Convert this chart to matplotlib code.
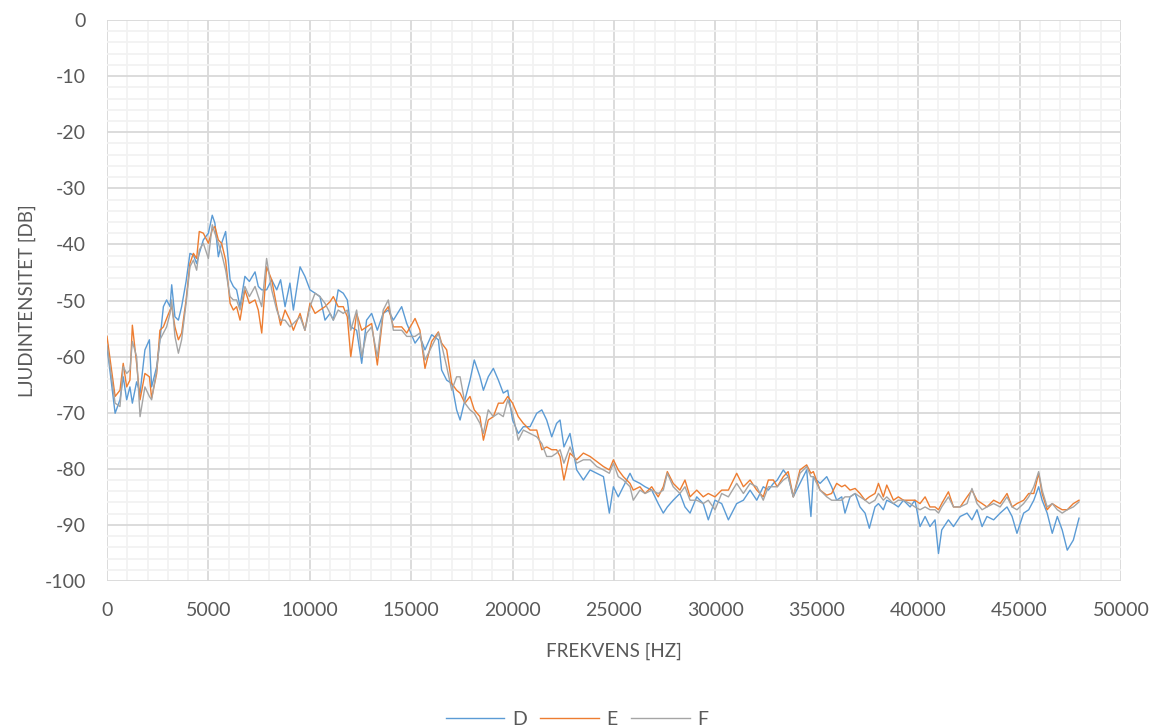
import matplotlib
matplotlib.use("Agg")
import matplotlib.pyplot as plt
from matplotlib.ticker import MultipleLocator

# frequency bins (Hz) and levels (dB)
freq = [0, 400, 640, 800, 970, 1130, 1250, 1460, 1630, 1870, 2090, 2200, 2450, 2610, 2780, 2940,
        3110, 3190, 3350, 3520, 3680, 3900, 4090, 4260, 4420, 4550, 4750, 5000, 5190, 5320, 5490,
        5650, 5850, 6070, 6230, 6390, 6560, 6800, 7020, 7300, 7460, 7630, 7870, 8120, 8370, 8560,
        8780, 9020, 9190, 9520, 9760, 10010, 10260, 10500, 10750, 11000, 11160, 11400, 11650, 11850,
        12020, 12310, 12560, 12800, 13050, 13330, 13620, 13870, 14120, 14530, 14780, 15190, 15430,
        15680, 16010, 16340, 16500, 16750, 17000, 17240, 17410, 17650, 17900, 18110, 18390, 18560,
        18800, 19050, 19300, 19540, 19760, 20000, 20280, 20530, 20860, 21190, 21440, 21680, 21930,
        22170, 22340, 22530, 22830, 23160, 23490, 23820, 24150, 24480, 24770, 24970, 25210, 25460,
        25790, 25950, 26280, 26530, 26860, 27180, 27430, 27630, 27920, 28250, 28500, 28750, 29080,
        29400, 29650, 29980, 30310, 30640, 31050, 31380, 31710, 32040, 32360, 32610, 32860, 33050,
        33350, 33590, 33840, 34170, 34500, 34710, 34830, 35160, 35490, 35730, 35980, 36230, 36390,
        36640, 36890, 37130, 37380, 37590, 37870, 38040, 38280, 38450, 38780, 39020, 39270, 39600,
        39840, 40090, 40340, 40580, 40830, 41000, 41160, 41490, 41740, 42070, 42410, 42650, 42900,
        43150, 43390, 43720, 44040, 44380, 44630, 44870, 45200, 45450, 45700, 45940, 46110, 46360,
        46610, 46860, 47100, 47350, 47650, 47930]

D = [-58.2, -70.1, -67.7, -63.6, -67.7, -65.4, -68.3, -64.5, -66.5, -58.8, -57.0, -65.4, -61.8, -57.0,
     -51.1, -49.9, -51.1, -47.2, -52.9, -53.5, -51.1, -46.6, -41.6, -41.9, -43.4, -41.6, -39.2, -38.0,
     -34.8, -36.2, -42.2, -39.8, -37.7, -46.3, -47.5, -48.1, -51.1, -45.7, -46.6, -44.9, -47.5, -48.1,
     -48.1, -46.3, -48.1, -46.3, -51.1, -46.9, -51.7, -44.0, -45.7, -48.1, -48.7, -49.3, -53.5, -52.3,
     -53.5, -48.1, -48.7, -49.9, -54.7, -55.3, -61.2, -53.5, -52.3, -55.3, -52.3, -51.7, -53.5, -51.1,
     -54.1, -57.6, -56.4, -58.8, -56.1, -57.0, -62.4, -64.2, -64.8, -69.5, -71.3, -67.7, -64.2, -60.6,
     -63.6, -66.0, -63.6, -62.1, -64.2, -66.5, -66.0, -71.3, -73.7, -72.5, -72.5, -70.1, -69.5, -71.3,
     -74.3, -71.9, -71.3, -76.1, -73.7, -80.2, -82.0, -80.2, -80.8, -81.4, -87.9, -83.2, -85.0, -83.2,
     -80.8, -82.0, -82.6, -83.2, -83.8, -86.2, -87.9, -86.8, -85.6, -84.4, -86.8, -87.9, -85.0, -86.2,
     -89.1, -85.6, -86.2, -89.1, -86.2, -85.6, -83.8, -85.6, -83.2, -83.8, -82.6, -82.0, -80.2, -81.4,
     -85.0, -82.6, -80.2, -88.5, -81.4, -82.6, -81.4, -83.2, -85.6, -85.0, -87.9, -85.0, -84.4, -86.8,
     -87.9, -90.6, -86.8, -86.2, -87.3, -85.6, -86.2, -86.8, -85.6, -86.8, -85.6, -90.3, -88.5, -90.3,
     -89.1, -95.1, -90.9, -89.1, -90.3, -88.5, -87.9, -89.1, -87.3, -90.3, -88.5, -89.1, -87.9, -86.8,
     -88.5, -91.5, -87.9, -87.3, -85.6, -83.2, -85.6, -87.9, -91.5, -88.5, -90.9, -94.5, -92.7, -88.8]

E = [-56.4, -67.1, -66.0, -61.2, -65.4, -64.2, -54.4, -61.2, -67.7, -63.0, -63.6, -67.4, -63.0, -55.3,
     -54.7, -53.2, -51.7, -51.1, -54.7, -57.0, -55.8, -49.9, -43.4, -41.6, -42.5, -37.7, -38.0, -39.8,
     -37.4, -36.8, -39.2, -39.8, -42.8, -50.5, -51.7, -51.1, -53.5, -48.1, -50.5, -49.9, -51.7, -55.8,
     -44.0, -46.3, -51.1, -54.4, -51.7, -53.5, -55.3, -52.3, -55.3, -50.5, -52.3, -51.7, -51.1, -50.2,
     -49.3, -51.1, -51.1, -52.9, -60.0, -52.3, -55.3, -54.7, -54.1, -61.5, -52.3, -51.1, -54.7, -54.7,
     -55.8, -53.2, -55.3, -62.1, -57.3, -55.6, -57.6, -58.8, -64.8, -66.0, -66.5, -68.3, -67.1, -69.5,
     -70.7, -74.9, -71.3, -70.7, -68.3, -68.3, -67.1, -68.3, -70.7, -71.9, -73.1, -73.1, -76.6, -76.1,
     -76.6, -76.6, -77.8, -82.0, -77.2, -78.4, -77.2, -77.8, -78.7, -79.6, -80.2, -78.4, -80.2, -81.4,
     -82.6, -83.8, -83.2, -84.4, -83.2, -85.0, -83.2, -80.5, -82.6, -83.8, -82.0, -85.0, -83.8, -85.0,
     -84.4, -85.0, -83.8, -83.8, -80.8, -83.2, -82.0, -83.8, -85.0, -82.0, -82.0, -83.2, -81.4, -80.5,
     -85.0, -80.2, -79.3, -80.8, -80.5, -83.8, -84.7, -84.4, -82.6, -83.2, -82.9, -83.8, -83.5, -84.4,
     -85.6, -85.0, -84.4, -82.6, -85.0, -82.9, -85.6, -85.0, -85.6, -85.6, -85.6, -86.2, -85.0, -86.8,
     -86.8, -87.3, -86.2, -84.1, -86.8, -86.8, -85.0, -83.8, -85.6, -86.2, -86.8, -85.6, -86.2, -84.4,
     -86.8, -86.2, -85.6, -84.4, -84.4, -80.8, -84.4, -87.3, -86.2, -86.8, -87.3, -87.3, -86.2, -85.6]

F = [-57.9, -68.3, -68.9, -61.8, -63.0, -62.4, -57.3, -60.0, -70.7, -65.4, -67.1, -67.7, -62.4, -57.0,
     -55.8, -54.7, -52.3, -49.9, -56.4, -59.4, -57.0, -50.5, -44.0, -42.8, -44.6, -41.0, -39.8, -42.5,
     -36.5, -38.0, -39.8, -41.6, -44.6, -49.3, -49.9, -49.9, -51.7, -47.5, -49.3, -47.5, -49.3, -51.1,
     -42.5, -48.1, -51.7, -53.5, -53.5, -54.7, -54.1, -52.9, -55.3, -51.1, -48.7, -49.3, -50.5, -52.3,
     -53.5, -51.7, -52.3, -51.7, -55.3, -51.7, -60.0, -55.8, -54.7, -60.0, -51.7, -49.9, -55.3, -55.3,
     -56.4, -56.4, -55.8, -60.6, -58.2, -55.8, -57.9, -61.8, -66.0, -63.6, -63.6, -68.3, -69.5, -70.1,
     -71.9, -73.7, -69.5, -70.7, -70.1, -70.7, -67.7, -70.1, -74.9, -73.1, -73.7, -74.3, -75.5, -77.8,
     -77.8, -77.2, -76.6, -79.0, -76.1, -79.0, -78.4, -78.4, -79.6, -80.2, -80.8, -79.0, -81.4, -82.0,
     -83.2, -85.6, -83.8, -84.4, -83.8, -84.4, -83.8, -80.8, -83.2, -84.4, -83.2, -85.6, -85.6, -86.2,
     -85.6, -87.3, -84.4, -85.0, -82.6, -84.4, -82.6, -83.2, -85.6, -83.2, -83.2, -83.2, -82.0, -81.4,
     -85.0, -80.8, -79.6, -81.4, -81.4, -83.8, -85.0, -85.6, -85.6, -85.6, -85.0, -85.0, -84.4, -85.0,
     -85.6, -86.2, -85.6, -84.4, -85.6, -85.0, -86.2, -85.6, -85.6, -86.2, -86.8, -87.3, -86.8, -87.3,
     -87.3, -87.9, -86.8, -85.0, -86.8, -86.8, -86.2, -83.5, -86.2, -87.3, -86.8, -86.2, -86.8, -85.0,
     -86.8, -87.3, -86.2, -85.0, -83.2, -80.5, -83.8, -86.8, -86.2, -87.3, -87.9, -87.3, -86.8, -85.9]

series = [("D", D, "#5b9bd5"), ("E", E, "#ed7d31"), ("F", F, "#a5a5a5")]
text_color = "#595959"

plt.rcParams['font.family'] = ['Lato', 'DejaVu Sans']
plt.rcParams['axes.unicode_minus'] = False

fig = plt.figure(figsize=(11.54, 7.28), dpi=100)
ax = fig.add_axes([107 / 1154, 1 - 581 / 728, (1121 - 107) / 1154, (581 - 20) / 728])

for name, vals, col in series:
    ax.plot(freq, vals, color=col, lw=1.0, label=name, zorder=3)

ax.set_xlim(0, 50000)
ax.set_ylim(-100, 0)
ax.xaxis.set_major_locator(MultipleLocator(5000))
ax.xaxis.set_minor_locator(MultipleLocator(1000))
ax.yaxis.set_major_locator(MultipleLocator(10))
ax.yaxis.set_minor_locator(MultipleLocator(2))
ax.grid(True, which='minor', color='#f2f2f2', lw=1.3, zorder=0)
ax.grid(True, which='major', color='#d9d9d9', lw=1.3, zorder=1)
ax.set_axisbelow(True)
for s in ax.spines.values():
    s.set_visible(False)
ax.tick_params(which='both', length=0, labelsize=14, labelcolor=text_color)
ax.tick_params(axis='x', pad=15)
ax.tick_params(axis='y', pad=15)

ax.set_xlabel('FREKVENS [HZ]', fontsize=13.5, color=text_color, labelpad=17)
ax.set_ylabel('LJUDINTENSITET [DB]', fontsize=13.5, color=text_color, labelpad=6)

fig.legend(loc='lower center', bbox_to_anchor=(0.5, -0.024), ncol=3, frameon=False,
           fontsize=14, labelcolor=text_color, handlelength=3.0, columnspacing=0.7, handletextpad=0.4)

fig.savefig('out.png', dpi=100)
